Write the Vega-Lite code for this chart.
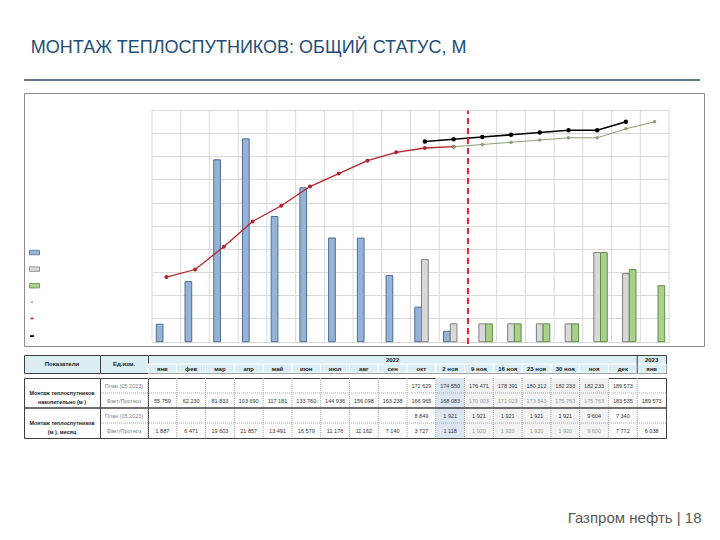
{
  "$schema": "https://vega.github.io/schema/vega-lite/v6.json",
  "background": "white",
  "padding": {"left": 22, "top": 39, "right": 0, "bottom": 0},
  "title": {"text": "МОНТАЖ ТЕПЛОСПУТНИКОВ: ОБЩИЙ СТАТУС, М", "anchor": "start", "dx": 8, "font": "Liberation Sans", "fontSize": 18, "fontWeight": "normal", "color": "#1F4E79", "offset": 22},
  "config": {
    "view": {"stroke": null},
    "font": "Liberation Sans",
    "locale": {"number": {"decimal": ",", "thousands": " ", "grouping": [3], "currency": ["", ""]}}
  },
  "datasets": {
    "bars": [
      {"m": "янв", "series": "Факт (месяц)", "v": 1887},
      {"m": "фев", "series": "Факт (месяц)", "v": 6471},
      {"m": "мар", "series": "Факт (месяц)", "v": 19603},
      {"m": "апр", "series": "Факт (месяц)", "v": 21857},
      {"m": "май", "series": "Факт (месяц)", "v": 13491},
      {"m": "июн", "series": "Факт (месяц)", "v": 16579},
      {"m": "июл", "series": "Факт (месяц)", "v": 11176},
      {"m": "авг", "series": "Факт (месяц)", "v": 11162},
      {"m": "сен", "series": "Факт (месяц)", "v": 7140},
      {"m": "окт", "series": "Факт (месяц)", "v": 3727},
      {"m": "2 ноя", "series": "Факт (месяц)", "v": 1118},
      {"m": "окт", "series": "План (месяц)", "v": 8849},
      {"m": "2 ноя", "series": "План (месяц)", "v": 1921},
      {"m": "9 ноя", "series": "План (месяц)", "v": 1921},
      {"m": "16 ноя", "series": "План (месяц)", "v": 1921},
      {"m": "23 ноя", "series": "План (месяц)", "v": 1921},
      {"m": "30 ноя", "series": "План (месяц)", "v": 1921},
      {"m": "ноя", "series": "План (месяц)", "v": 9604},
      {"m": "дек", "series": "План (месяц)", "v": 7340},
      {"m": "9 ноя", "series": "Прогноз (месяц)", "v": 1920},
      {"m": "16 ноя", "series": "Прогноз (месяц)", "v": 1920},
      {"m": "23 ноя", "series": "Прогноз (месяц)", "v": 1920},
      {"m": "30 ноя", "series": "Прогноз (месяц)", "v": 1920},
      {"m": "ноя", "series": "Прогноз (месяц)", "v": 9600},
      {"m": "дек", "series": "Прогноз (месяц)", "v": 7772},
      {"m": "янв 2023", "series": "Прогноз (месяц)", "v": 6038}
    ],
    "cum": [
      {"m": "янв", "line": "Факт накопительно", "v": 55759},
      {"m": "фев", "line": "Факт накопительно", "v": 62230},
      {"m": "мар", "line": "Факт накопительно", "v": 81833},
      {"m": "апр", "line": "Факт накопительно", "v": 103690},
      {"m": "май", "line": "Факт накопительно", "v": 117181},
      {"m": "июн", "line": "Факт накопительно", "v": 133760},
      {"m": "июл", "line": "Факт накопительно", "v": 144936},
      {"m": "авг", "line": "Факт накопительно", "v": 156098},
      {"m": "сен", "line": "Факт накопительно", "v": 163238},
      {"m": "окт", "line": "Факт накопительно", "v": 166965},
      {"m": "2 ноя", "line": "Факт накопительно", "v": 168083},
      {"m": "окт", "line": "План накопительно", "v": 172629},
      {"m": "2 ноя", "line": "План накопительно", "v": 174550},
      {"m": "9 ноя", "line": "План накопительно", "v": 176471},
      {"m": "16 ноя", "line": "План накопительно", "v": 178391},
      {"m": "23 ноя", "line": "План накопительно", "v": 180312},
      {"m": "30 ноя", "line": "План накопительно", "v": 182233},
      {"m": "ноя", "line": "План накопительно", "v": 182233},
      {"m": "дек", "line": "План накопительно", "v": 189573},
      {"m": "2 ноя", "line": "Прогноз накопительно", "v": 168083},
      {"m": "9 ноя", "line": "Прогноз накопительно", "v": 170003},
      {"m": "16 ноя", "line": "Прогноз накопительно", "v": 171923},
      {"m": "23 ноя", "line": "Прогноз накопительно", "v": 173843},
      {"m": "30 ноя", "line": "Прогноз накопительно", "v": 175763},
      {"m": "ноя", "line": "Прогноз накопительно", "v": 175763},
      {"m": "дек", "line": "Прогноз накопительно", "v": 183535},
      {"m": "янв 2023", "line": "Прогноз накопительно", "v": 189573}
    ],
    "months": [
      {"m": "янв", "label": "янв"}, {"m": "фев", "label": "фев"}, {"m": "мар", "label": "мар"},
      {"m": "апр", "label": "апр"}, {"m": "май", "label": "май"}, {"m": "июн", "label": "июн"},
      {"m": "июл", "label": "июл"}, {"m": "авг", "label": "авг"}, {"m": "сен", "label": "сен"},
      {"m": "окт", "label": "окт"}, {"m": "2 ноя", "label": "2 ноя"}, {"m": "9 ноя", "label": "9 ноя"},
      {"m": "16 ноя", "label": "16 ноя"}, {"m": "23 ноя", "label": "23 ноя"}, {"m": "30 ноя", "label": "30 ноя"},
      {"m": "ноя", "label": "ноя"}, {"m": "дек", "label": "дек"}, {"m": "янв 2023", "label": "янв"}
    ],
    "table": [
      {"m": "окт", "r": "g1p", "v": 172629}, {"m": "2 ноя", "r": "g1p", "v": 174550}, {"m": "9 ноя", "r": "g1p", "v": 176471},
      {"m": "16 ноя", "r": "g1p", "v": 178391}, {"m": "23 ноя", "r": "g1p", "v": 180312}, {"m": "30 ноя", "r": "g1p", "v": 182233},
      {"m": "ноя", "r": "g1p", "v": 182233}, {"m": "дек", "r": "g1p", "v": 189573},
      {"m": "янв", "r": "g1f", "v": 55759}, {"m": "фев", "r": "g1f", "v": 62230}, {"m": "мар", "r": "g1f", "v": 81833},
      {"m": "апр", "r": "g1f", "v": 103690}, {"m": "май", "r": "g1f", "v": 117181}, {"m": "июн", "r": "g1f", "v": 133760},
      {"m": "июл", "r": "g1f", "v": 144936}, {"m": "авг", "r": "g1f", "v": 156098}, {"m": "сен", "r": "g1f", "v": 163238},
      {"m": "окт", "r": "g1f", "v": 166965}, {"m": "2 ноя", "r": "g1f", "v": 168083}, {"m": "9 ноя", "r": "g1f", "v": 170003},
      {"m": "16 ноя", "r": "g1f", "v": 171923}, {"m": "23 ноя", "r": "g1f", "v": 173843}, {"m": "30 ноя", "r": "g1f", "v": 175763},
      {"m": "ноя", "r": "g1f", "v": 175763}, {"m": "дек", "r": "g1f", "v": 183535}, {"m": "янв 2023", "r": "g1f", "v": 189573},
      {"m": "окт", "r": "g2p", "v": 8849}, {"m": "2 ноя", "r": "g2p", "v": 1921}, {"m": "9 ноя", "r": "g2p", "v": 1921},
      {"m": "16 ноя", "r": "g2p", "v": 1921}, {"m": "23 ноя", "r": "g2p", "v": 1921}, {"m": "30 ноя", "r": "g2p", "v": 1921},
      {"m": "ноя", "r": "g2p", "v": 9604}, {"m": "дек", "r": "g2p", "v": 7340},
      {"m": "янв", "r": "g2f", "v": 1887}, {"m": "фев", "r": "g2f", "v": 6471}, {"m": "мар", "r": "g2f", "v": 19603},
      {"m": "апр", "r": "g2f", "v": 21857}, {"m": "май", "r": "g2f", "v": 13491}, {"m": "июн", "r": "g2f", "v": 16579},
      {"m": "июл", "r": "g2f", "v": 11176}, {"m": "авг", "r": "g2f", "v": 11162}, {"m": "сен", "r": "g2f", "v": 7140},
      {"m": "окт", "r": "g2f", "v": 3727}, {"m": "2 ноя", "r": "g2f", "v": 1118}, {"m": "9 ноя", "r": "g2f", "v": 1920},
      {"m": "16 ноя", "r": "g2f", "v": 1920}, {"m": "23 ноя", "r": "g2f", "v": 1920}, {"m": "30 ноя", "r": "g2f", "v": 1920},
      {"m": "ноя", "r": "g2f", "v": 9600}, {"m": "дек", "r": "g2f", "v": 7772}, {"m": "янв 2023", "r": "g2f", "v": 6038}
    ]
  },
  "spacing": 11,
  "vconcat": [
    {
      "width": 676,
      "height": 1,
      "data": {"values": [{"v": 0}]},
      "mark": {"type": "rule", "color": "#5E7480", "strokeWidth": 2},
      "encoding": {"y": {"field": "v", "type": "quantitative", "axis": null, "scale": {"domain": [0, 1]}}}
    },
    {
      "spacing": 7,
      "title": {"text": "Газпром нефть | 18", "orient": "bottom", "anchor": "end", "font": "Liberation Sans", "fontSize": 15, "fontWeight": "normal", "color": "#595959", "offset": 72, "dx": -3},
      "vconcat": [
        {
          "width": 680,
          "height": 253,
          "view": {"stroke": "#8c8c8c", "strokeWidth": 1},
          "resolve": {"scale": {"y": "independent", "fill": "independent", "stroke": "independent"}, "axis": {"x": "independent", "y": "independent"}},
          "layer": [
            {
              "data": {"name": "months"},
              "mark": {"type": "rule", "color": "#d9d9d9", "strokeWidth": 1},
              "encoding": {
                "x": {"field": "m", "type": "nominal", "bandPosition": 0, "axis": null, "scale": {"domain": ["янв","фев","мар","апр","май","июн","июл","авг","сен","окт","2 ноя","9 ноя","16 ноя","23 ноя","30 ноя","ноя","дек","янв 2023"], "range": [128, 645], "paddingInner": 0, "paddingOuter": 0}},
                "y": {"datum": 0, "type": "quantitative", "axis": null, "scale": {"domain": [0, 200000], "range": [248.7, 16.7], "nice": false}},
                "y2": {"datum": 200000}
              }
            },
            {
              "data": {"values": [{"m": "янв 2023"}]},
              "mark": {"type": "rule", "color": "#d9d9d9", "strokeWidth": 1},
              "encoding": {
                "x": {"field": "m", "type": "nominal", "bandPosition": 1, "axis": null, "scale": {"domain": ["янв","фев","мар","апр","май","июн","июл","авг","сен","окт","2 ноя","9 ноя","16 ноя","23 ноя","30 ноя","ноя","дек","янв 2023"], "range": [128, 645], "paddingInner": 0, "paddingOuter": 0}},
                "y": {"datum": 0, "type": "quantitative", "axis": null, "scale": {"domain": [0, 200000], "range": [248.7, 16.7], "nice": false}},
                "y2": {"datum": 200000}
              }
            },
            {
              "data": {"name": "bars"},
              "mark": {"type": "bar", "strokeWidth": 1},
              "encoding": {
                "x": {"field": "m", "type": "nominal", "axis": null, "scale": {"domain": ["янв","фев","мар","апр","май","июн","июл","авг","сен","окт","2 ноя","9 ноя","16 ноя","23 ноя","30 ноя","ноя","дек","янв 2023"], "range": [128, 645], "paddingInner": 0, "paddingOuter": 0}},
                "xOffset": {"field": "series", "type": "nominal", "scale": {"domain": ["Факт (месяц)", "План (месяц)", "Прогноз (месяц)"], "paddingOuter": 0.64, "paddingInner": 0}},
                "y": {"field": "v", "type": "quantitative", "axis": null, "scale": {"domain": [0, 25000], "range": [248.7, 16.7], "nice": false}},
                "fill": {"field": "series", "type": "nominal", "scale": {"domain": ["Факт (месяц)", "План (месяц)", "Прогноз (месяц)"], "range": ["#95B3D7", "#D9D9D9", "#A9D18E"]},
                  "legend": {"title": null, "orient": "none", "legendX": 5, "legendY": 154, "direction": "vertical", "labelExpr": "''", "symbolType": "M-1,-0.45H1V0.45H-1Z", "symbolSize": 100, "symbolStrokeColor": "#6a6a6a", "symbolStrokeWidth": 0.8, "rowPadding": 6.6, "labelFontSize": 6, "padding": 0}},
                "stroke": {"field": "series", "type": "nominal", "scale": {"domain": ["Факт (месяц)", "План (месяц)", "Прогноз (месяц)"], "range": ["#4F6D93", "#7F7F7F", "#5F8F3F"]}, "legend": null}
              }
            },
            {
              "data": {"name": "cum"},
              "mark": {"type": "line"},
              "encoding": {
                "x": {"field": "m", "type": "nominal", "axis": null, "scale": {"domain": ["янв","фев","мар","апр","май","июн","июл","авг","сен","окт","2 ноя","9 ноя","16 ноя","23 ноя","30 ноя","ноя","дек","янв 2023"], "range": [128, 645], "paddingInner": 0, "paddingOuter": 0}},
                "y": {"field": "v", "type": "quantitative", "scale": {"domain": [0, 200000], "range": [248.7, 16.7], "nice": false},
                  "axis": {"title": null, "grid": true, "values": [0, 20000, 40000, 60000, 80000, 100000, 120000, 140000, 160000, 180000, 200000], "labels": false, "ticks": false, "domain": false, "gridColor": "#d9d9d9", "gridWidth": 1}},
                "color": {"field": "line", "type": "nominal", "scale": {"domain": ["Прогноз накопительно", "Факт накопительно", "План накопительно"], "range": ["#8E9B73", "#B42328", "#000000"]},
                  "legend": {"title": null, "orient": "none", "legendX": 5, "legendY": 220, "direction": "vertical", "labelExpr": "''", "symbolType": "M-1,-0.09H1V0.09H-1Z M-0.28,0A0.28,0.28,0,1,1,0.28,0A0.28,0.28,0,1,1,-0.28,0Z", "symbolSize": 121, "symbolStrokeWidth": 1, "rowPadding": 10.6, "labelFontSize": 6, "padding": 0}},
                "strokeWidth": {"field": "line", "type": "nominal", "scale": {"domain": ["Прогноз накопительно", "Факт накопительно", "План накопительно"], "range": [1, 1.6, 1]}, "legend": null}
              }
            },
            {
              "data": {"name": "cum"},
              "mark": {"type": "point", "filled": false, "opacity": 1, "strokeWidth": 2},
              "encoding": {
                "x": {"field": "m", "type": "nominal", "axis": null, "scale": {"domain": ["янв","фев","мар","апр","май","июн","июл","авг","сен","окт","2 ноя","9 ноя","16 ноя","23 ноя","30 ноя","ноя","дек","янв 2023"], "range": [128, 645], "paddingInner": 0, "paddingOuter": 0}},
                "y": {"field": "v", "type": "quantitative", "axis": null, "scale": {"domain": [0, 200000], "range": [248.7, 16.7], "nice": false}},
                "color": {"field": "line", "type": "nominal", "scale": {"domain": ["Прогноз накопительно", "Факт накопительно", "План накопительно"], "range": ["#8E9B73", "#B42328", "#000000"]},
                  "legend": {"title": null, "orient": "none", "legendX": 5, "legendY": 220, "direction": "vertical", "labelExpr": "''", "symbolType": "M-1,-0.09H1V0.09H-1Z M-0.28,0A0.28,0.28,0,1,1,0.28,0A0.28,0.28,0,1,1,-0.28,0Z", "symbolSize": 121, "symbolStrokeWidth": 1, "rowPadding": 10.6, "labelFontSize": 6, "padding": 0}},
                "size": {"field": "line", "type": "nominal", "scale": {"domain": ["Прогноз накопительно", "Факт накопительно", "План накопительно"], "range": [2, 6, 3]}, "legend": null}
              }
            },
            {
              "data": {"values": [{"m": "9 ноя"}]},
              "mark": {"type": "rule", "color": "#E0262B", "strokeWidth": 2, "strokeDash": [6, 4]},
              "encoding": {
                "x": {"field": "m", "type": "nominal", "bandPosition": 0, "axis": null, "scale": {"domain": ["янв","фев","мар","апр","май","июн","июл","авг","сен","окт","2 ноя","9 ноя","16 ноя","23 ноя","30 ноя","ноя","дек","янв 2023"], "range": [128, 645], "paddingInner": 0, "paddingOuter": 0}},
                "y": {"datum": -2000, "type": "quantitative", "axis": null, "scale": {"domain": [0, 200000], "range": [248.7, 16.7], "nice": false}},
                "y2": {"datum": 199000}
              }
            }
          ]
        },
        {
          "columns": 3,
          "spacing": {"row": 5, "column": 0},
          "bounds": "flush",
          "concat": [
            {
              "width": 76, "height": 18,
              "view": {"fill": "#DAEEF3", "stroke": "#404040"},
              "data": {"values": [{"t": "Показатели"}]},
              "mark": {"type": "text", "fontSize": 6, "fontWeight": "bold", "color": "#1a1a1a"},
              "encoding": {"text": {"field": "t"}}
            },
            {
              "width": 48, "height": 18,
              "view": {"fill": "#DAEEF3", "stroke": "#404040"},
              "data": {"values": [{"t": "Ед.изм."}]},
              "mark": {"type": "text", "fontSize": 6, "fontWeight": "bold", "color": "#1a1a1a"},
              "encoding": {"text": {"field": "t"}}
            },
            {
              "width": 518, "height": 18,
              "view": {"fill": "#DAEEF3", "stroke": "#404040"},
              "layer": [
                {
                  "data": {"name": "months"},
                  "mark": {"type": "rect", "fill": "#DAEEF3", "stroke": "#ffffff", "strokeWidth": 1},
                  "encoding": {
                    "x": {"field": "m", "type": "nominal", "axis": null, "scale": {"domain": ["янв","фев","мар","апр","май","июн","июл","авг","сен","окт","2 ноя","9 ноя","16 ноя","23 ноя","30 ноя","ноя","дек","янв 2023"], "paddingInner": 0, "paddingOuter": 0}},
                    "y": {"datum": "мес", "type": "nominal", "axis": null, "scale": {"domain": ["год", "мес"], "paddingInner": 0, "paddingOuter": 0}}
                  }
                },
                {
                  "data": {"values": [{"m": "янв 2023"}]},
                  "mark": {"type": "rule", "color": "#404040", "strokeWidth": 1},
                  "encoding": {"x": {"field": "m", "type": "nominal", "bandPosition": 0, "axis": null}}
                },
                {
                  "data": {"name": "months"},
                  "mark": {"type": "text", "fontSize": 6, "fontWeight": "bold", "color": "#1a1a1a"},
                  "encoding": {
                    "x": {"field": "m", "type": "nominal", "axis": null},
                    "y": {"datum": "мес", "type": "nominal", "axis": null},
                    "text": {"field": "label"}
                  }
                },
                {
                  "data": {"values": [{"m": "сен", "t": "2022"}, {"m": "янв 2023", "t": "2023"}]},
                  "mark": {"type": "text", "fontSize": 6, "fontWeight": "bold", "color": "#1a1a1a"},
                  "encoding": {
                    "x": {"field": "m", "type": "nominal", "axis": null},
                    "y": {"datum": "год", "type": "nominal", "axis": null},
                    "text": {"field": "t"}
                  }
                }
              ]
            },
            {
              "width": 76, "height": 60,
              "view": {"stroke": "#404040"},
              "layer": [
                {
                  "data": {"values": [{"g": "g2"}]},
                  "mark": {"type": "rule", "color": "#404040", "strokeWidth": 1.5},
                  "encoding": {"y": {"field": "g", "type": "nominal", "bandPosition": 0, "axis": null, "scale": {"domain": ["g1", "g2"], "paddingInner": 0, "paddingOuter": 0}}}
                },
                {
                  "data": {"values": [{"g": "g1", "t": ["Монтаж теплоспутников", "накопительно (м )"]}, {"g": "g2", "t": ["Монтаж теплоспутников", "(м ), месяц"]}]},
                  "mark": {"type": "text", "fontSize": 5.4, "fontWeight": "bold", "color": "#1a1a1a", "lineHeight": 9},
                  "encoding": {
                    "y": {"field": "g", "type": "nominal", "axis": null, "scale": {"domain": ["g1", "g2"], "paddingInner": 0, "paddingOuter": 0}},
                    "text": {"field": "t"}
                  }
                }
              ]
            },
            {
              "width": 48, "height": 60,
              "view": {"stroke": "#404040"},
              "layer": [
                {
                  "data": {"values": [{"r": "g1f"}, {"r": "g2f"}]},
                  "mark": {"type": "rule", "color": "#a6a6a6", "strokeWidth": 1, "strokeDash": [1, 1]},
                  "encoding": {"y": {"field": "r", "type": "nominal", "bandPosition": 0, "axis": null, "scale": {"domain": ["g1p", "g1f", "g2p", "g2f"], "paddingInner": 0, "paddingOuter": 0}}}
                },
                {
                  "data": {"values": [{"r": "g2p"}]},
                  "mark": {"type": "rule", "color": "#404040", "strokeWidth": 1.5},
                  "encoding": {"y": {"field": "r", "type": "nominal", "bandPosition": 0, "axis": null, "scale": {"domain": ["g1p", "g1f", "g2p", "g2f"], "paddingInner": 0, "paddingOuter": 0}}}
                },
                {
                  "data": {"values": [{"r": "g1p", "t": "План (05.2023)"}, {"r": "g1f", "t": "Факт/Прогноз"}, {"r": "g2p", "t": "План (05.2023)"}, {"r": "g2f", "t": "Факт/Прогноз"}]},
                  "mark": {"type": "text", "fontSize": 5.5, "color": "#7f7f7f"},
                  "encoding": {
                    "y": {"field": "r", "type": "nominal", "axis": null, "scale": {"domain": ["g1p", "g1f", "g2p", "g2f"], "paddingInner": 0, "paddingOuter": 0}},
                    "text": {"field": "t"}
                  }
                }
              ]
            },
            {
              "width": 518, "height": 60,
              "view": {"stroke": "#404040"},
              "layer": [
                {
                  "data": {"values": [{"m": "2 ноя", "c": "текущая неделя"}, {"m": "9 ноя", "c": "прогноз"}, {"m": "16 ноя", "c": "прогноз"}, {"m": "23 ноя", "c": "прогноз"}, {"m": "30 ноя", "c": "прогноз"}, {"m": "ноя", "c": "прогноз"}]},
                  "mark": {"type": "rect"},
                  "encoding": {
                    "x": {"field": "m", "type": "nominal", "axis": null, "scale": {"domain": ["янв","фев","мар","апр","май","июн","июл","авг","сен","окт","2 ноя","9 ноя","16 ноя","23 ноя","30 ноя","ноя","дек","янв 2023"], "paddingInner": 0, "paddingOuter": 0}},
                    "fill": {"field": "c", "type": "nominal", "scale": {"domain": ["текущая неделя", "прогноз"], "range": ["#DCE6F1", "#F2F2F2"]}, "legend": null}
                  }
                },
                {
                  "data": {"name": "months"},
                  "mark": {"type": "rule", "color": "#a6a6a6", "strokeWidth": 1, "strokeDash": [1, 1]},
                  "encoding": {"x": {"field": "m", "type": "nominal", "bandPosition": 0, "axis": null}}
                },
                {
                  "data": {"values": [{"r": "g1f"}, {"r": "g2f"}]},
                  "mark": {"type": "rule", "color": "#a6a6a6", "strokeWidth": 1, "strokeDash": [1, 1]},
                  "encoding": {"y": {"field": "r", "type": "nominal", "bandPosition": 0, "axis": null, "scale": {"domain": ["g1p", "g1f", "g2p", "g2f"], "paddingInner": 0, "paddingOuter": 0}}}
                },
                {
                  "data": {"values": [{"r": "g2p"}]},
                  "mark": {"type": "rule", "color": "#404040", "strokeWidth": 1.5},
                  "encoding": {"y": {"field": "r", "type": "nominal", "bandPosition": 0, "axis": null}}
                },
                {
                  "data": {"name": "table"},
                  "mark": {"type": "text", "fontSize": 5.5},
                  "encoding": {
                    "x": {"field": "m", "type": "nominal", "axis": null},
                    "y": {"field": "r", "type": "nominal", "axis": null},
                    "text": {"field": "v", "type": "quantitative", "format": ",d"},
                    "color": {"condition": {"test": "indexof(['9 ноя','16 ноя','23 ноя','30 ноя','ноя'], datum.m) >= 0 && (datum.r == 'g1f' || datum.r == 'g2f')", "value": "#9a9a9a"}, "value": "#333333"}
                  }
                }
              ]
            }
          ]
        }
      ]
    }
  ]
}
